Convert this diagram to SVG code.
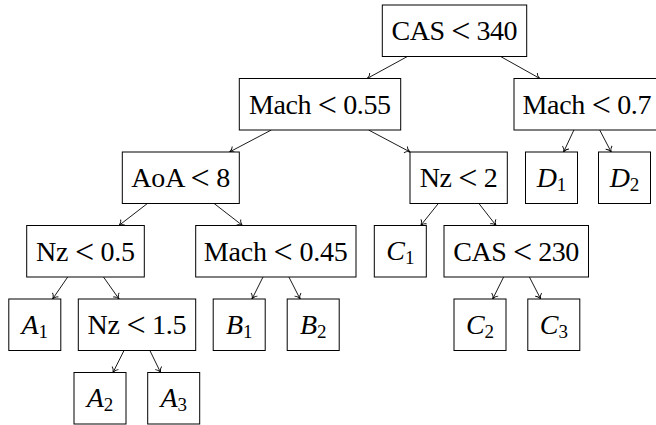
<svg xmlns="http://www.w3.org/2000/svg" width="656" height="425" viewBox="0 0 656 425">
<style>
.box{fill:#fff;stroke:#000;stroke-width:1}
.lbl{font-family:"Liberation Serif","Times New Roman",serif;font-size:28px;fill:#000;text-anchor:middle}
.it{font-style:italic}
.sub{font-size:19px;font-style:normal}
.lt{font-size:34px}
.edge{stroke:#000;stroke-width:0.9;fill:none;marker-end:url(#to)}
</style>
<defs>
<marker id="to" viewBox="-6 -5 7 10" refX="0" refY="0" markerWidth="7" markerHeight="10" markerUnits="userSpaceOnUse" orient="auto">
<path d="M-5,-3.6 C-4,-1.4 -1.5,-0.35 0,0 C-1.5,0.35 -4,1.4 -5,3.6" fill="none" stroke="#000" stroke-width="0.9"/>
</marker>
</defs>
<rect width="656" height="425" fill="#fff"/>
<g id="edges">
<line class="edge" x1="407.4" y1="56.5" x2="367.1" y2="78.5"/>
<line class="edge" x1="500.6" y1="56.5" x2="539.9" y2="78.5"/>
<line class="edge" x1="271.3" y1="130" x2="229.5" y2="152"/>
<line class="edge" x1="368.6" y1="130" x2="410.1" y2="152"/>
<line class="edge" x1="573.9" y1="130" x2="563.6" y2="152"/>
<line class="edge" x1="599.7" y1="130" x2="611.2" y2="152"/>
<line class="edge" x1="147.4" y1="203.5" x2="118.9" y2="225.5"/>
<line class="edge" x1="214.1" y1="203.5" x2="242.5" y2="225.5"/>
<line class="edge" x1="438.3" y1="203.5" x2="420.7" y2="225.5"/>
<line class="edge" x1="478.9" y1="203.5" x2="496.1" y2="225.5"/>
<line class="edge" x1="67.7" y1="277" x2="52.6" y2="299"/>
<line class="edge" x1="103.5" y1="277" x2="119" y2="299"/>
<line class="edge" x1="263" y1="277" x2="252" y2="299"/>
<line class="edge" x1="288.9" y1="277" x2="300.1" y2="299"/>
<line class="edge" x1="503.6" y1="277" x2="492.7" y2="299"/>
<line class="edge" x1="529.4" y1="277" x2="540.7" y2="299"/>
<line class="edge" x1="124" y1="350.5" x2="113" y2="372.5"/>
<line class="edge" x1="149.9" y1="350.5" x2="160.6" y2="372.5"/>
</g>
<g id="n-cas340"><rect class="box" x="382.3" y="5" width="144.4" height="51.5"/><text class="lbl" x="454.5" y="40" textLength="126" lengthAdjust="spacing">CAS <tspan class="lt" dy="2">&lt;</tspan><tspan dy="-2"> 340</tspan></text></g>
<g id="n-mach055"><rect class="box" x="239.3" y="78.5" width="161.4" height="51.5"/><text class="lbl" x="320" y="113.5" textLength="142" lengthAdjust="spacing">Mach <tspan class="lt" dy="2">&lt;</tspan><tspan dy="-2"> 0.55</tspan></text></g>
<g id="n-mach07"><rect class="box" x="514" y="78.5" width="150" height="51.5"/><text class="lbl" x="587" y="113.5" textLength="129" lengthAdjust="spacing">Mach <tspan class="lt" dy="2">&lt;</tspan><tspan dy="-2"> 0.7</tspan></text></g>
<g id="n-aoa8"><rect class="box" x="122.3" y="152" width="117" height="51.5"/><text class="lbl" x="180.8" y="187" textLength="99" lengthAdjust="spacing">AoA <tspan class="lt" dy="2">&lt;</tspan><tspan dy="-2"> 8</tspan></text></g>
<g id="n-nz2"><rect class="box" x="410" y="152" width="97.3" height="51.5"/><text class="lbl" x="458.7" y="187" textLength="78" lengthAdjust="spacing">Nz <tspan class="lt" dy="2">&lt;</tspan><tspan dy="-2"> 2</tspan></text></g>
<g id="n-d1"><rect class="box" x="525.5" y="152" width="52" height="51.5"/><text class="lbl" x="551.5" y="186.5"><tspan class="it">D</tspan><tspan class="sub" dy="4">1</tspan></text></g>
<g id="n-d2"><rect class="box" x="598.5" y="152" width="52" height="51.5"/><text class="lbl" x="624.5" y="186.5"><tspan class="it">D</tspan><tspan class="sub" dy="4">2</tspan></text></g>
<g id="n-nz05"><rect class="box" x="26.7" y="225.5" width="117.6" height="51.5"/><text class="lbl" x="85.5" y="260.5" textLength="99" lengthAdjust="spacing">Nz <tspan class="lt" dy="2">&lt;</tspan><tspan dy="-2"> 0.5</tspan></text></g>
<g id="n-mach045"><rect class="box" x="195.7" y="225.5" width="160.3" height="51.5"/><text class="lbl" x="275.8" y="260.5" textLength="144" lengthAdjust="spacing">Mach <tspan class="lt" dy="2">&lt;</tspan><tspan dy="-2"> 0.45</tspan></text></g>
<g id="n-c1"><rect class="box" x="374.3" y="225.5" width="52" height="51.5"/><text class="lbl" x="400.3" y="260"><tspan class="it">C</tspan><tspan class="sub" dy="4">1</tspan></text></g>
<g id="n-cas230"><rect class="box" x="444" y="225.5" width="144.5" height="51.5"/><text class="lbl" x="516.3" y="260.5" textLength="126" lengthAdjust="spacing">CAS <tspan class="lt" dy="2">&lt;</tspan><tspan dy="-2"> 230</tspan></text></g>
<g id="n-a1"><rect class="box" x="8.8" y="299" width="52" height="51.5"/><text class="lbl" x="34.8" y="333.5"><tspan class="it">A</tspan><tspan class="sub" dy="4">1</tspan></text></g>
<g id="n-nz15"><rect class="box" x="78.3" y="299" width="117.4" height="51.5"/><text class="lbl" x="137" y="334" textLength="99" lengthAdjust="spacing">Nz <tspan class="lt" dy="2">&lt;</tspan><tspan dy="-2"> 1.5</tspan></text></g>
<g id="n-b1"><rect class="box" x="213.2" y="299" width="52" height="51.5"/><text class="lbl" x="239.2" y="333.5"><tspan class="it">B</tspan><tspan class="sub" dy="4">1</tspan></text></g>
<g id="n-b2"><rect class="box" x="287.2" y="299" width="52" height="51.5"/><text class="lbl" x="313.2" y="333.5"><tspan class="it">B</tspan><tspan class="sub" dy="4">2</tspan></text></g>
<g id="n-c2"><rect class="box" x="454" y="299" width="52" height="51.5"/><text class="lbl" x="480" y="333.5"><tspan class="it">C</tspan><tspan class="sub" dy="4">2</tspan></text></g>
<g id="n-c3"><rect class="box" x="527.8" y="299" width="52" height="51.5"/><text class="lbl" x="553.8" y="333.5"><tspan class="it">C</tspan><tspan class="sub" dy="4">3</tspan></text></g>
<g id="n-a2"><rect class="box" x="74" y="372.5" width="52" height="51.5"/><text class="lbl" x="100" y="407"><tspan class="it">A</tspan><tspan class="sub" dy="4">2</tspan></text></g>
<g id="n-a3"><rect class="box" x="147.7" y="372.5" width="52" height="51.5"/><text class="lbl" x="173.7" y="407"><tspan class="it">A</tspan><tspan class="sub" dy="4">3</tspan></text></g>
</svg>
